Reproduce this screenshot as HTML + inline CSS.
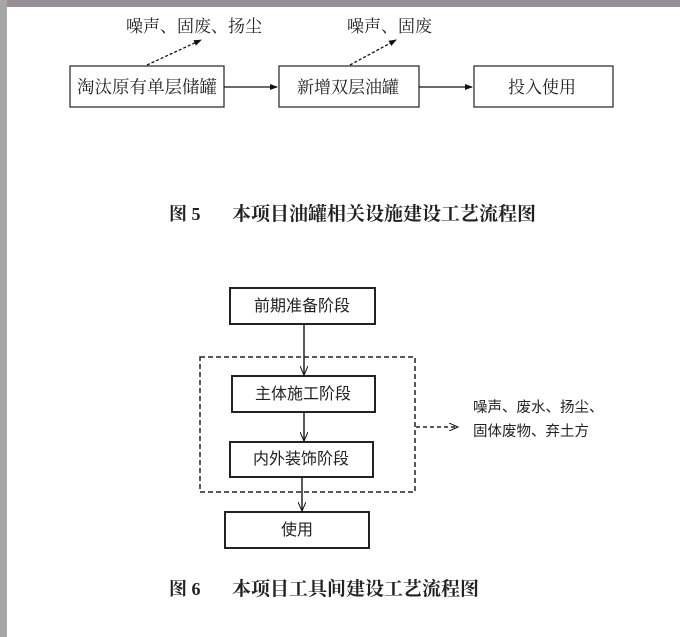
<!DOCTYPE html>
<html><head><meta charset="utf-8"><style>
body{margin:0;width:680px;height:637px;background:#fff;overflow:hidden;position:relative;font-family:"Liberation Serif","Noto Serif CJK SC","Noto Sans CJK SC",serif}
.t{position:absolute;white-space:nowrap;color:#222;line-height:1}
.s{font-family:'Liberation Sans','Noto Sans CJK SC',sans-serif}
</style></head><body>
<div style="position:absolute;left:0;top:0;width:680px;height:7px;background:#9a8e96"></div>
<div style="position:absolute;left:0;top:0;width:7px;height:637px;background:#a6a6a6"></div>
<svg width="680" height="637" style="position:absolute;left:0;top:0">
<defs>
<marker id="a" markerWidth="8" markerHeight="8" refX="7" refY="4" orient="auto" markerUnits="userSpaceOnUse"><path d="M0,1 L8,4 L0,7 z" fill="#111"/></marker>
<marker id="o" markerWidth="10" markerHeight="8" refX="9" refY="4" orient="auto" markerUnits="userSpaceOnUse"><path d="M0,0 L9,4 L0,8" fill="none" stroke="#111" stroke-width="1"/></marker>
</defs>
<g fill="none" stroke="#333" stroke-width="1.3">
<rect x="70" y="66" width="154" height="41"/>
<rect x="279" y="66" width="140" height="41"/>
<rect x="474" y="66" width="139" height="41"/>
</g>
<g stroke="#111" stroke-width="1.3">
<line x1="224" y1="87" x2="277" y2="87" marker-end="url(#a)"/>
<line x1="419" y1="87" x2="472" y2="87" marker-end="url(#a)"/>
<line x1="147" y1="65" x2="201" y2="40" stroke-dasharray="3,2" marker-end="url(#a)"/>
<line x1="350" y1="65" x2="396" y2="40" stroke-dasharray="3,2" marker-end="url(#a)"/>
</g>
<g fill="none" stroke="#222" stroke-width="2">
<rect x="230" y="288" width="145" height="36"/>
<rect x="232" y="376" width="143" height="36"/>
<rect x="230" y="442" width="143" height="35"/>
<rect x="225" y="512" width="144" height="36"/>
</g>
<rect x="200" y="357" width="215" height="135" fill="none" stroke="#222" stroke-width="1.5" stroke-dasharray="5,3"/>
<g stroke="#222" stroke-width="1.5">
<line x1="304" y1="324" x2="304" y2="375" marker-end="url(#o)"/>
<line x1="304" y1="412" x2="304" y2="441" marker-end="url(#o)"/>
<line x1="302" y1="477" x2="302" y2="511" marker-end="url(#o)"/>
<line x1="416" y1="427" x2="458" y2="427" stroke-dasharray="4,3" marker-end="url(#o)"/>
</g>
</svg>
<div class="t" style="left:126px;top:18px;font-size:17px">噪声、固废、扬尘</div>
<div class="t" style="left:347px;top:18px;font-size:17px">噪声、固废</div>
<div class="t" style="left:77px;top:79px;font-size:17.5px">淘汰原有单层储罐</div>
<div class="t" style="left:297px;top:79px;font-size:17px">新增双层油罐</div>
<div class="t" style="left:508px;top:79px;font-size:17px">投入使用</div>
<div class="t" style="left:169px;top:205px;font-size:18px;font-weight:bold">图 5</div>
<div class="t" style="left:232px;top:205px;font-size:19px;font-weight:bold">本项目油罐相关设施建设工艺流程图</div>
<div class="t s" style="left:254px;top:299px;font-size:16px">前期准备阶段</div>
<div class="t s" style="left:255px;top:387px;font-size:16px">主体施工阶段</div>
<div class="t s" style="left:253px;top:452px;font-size:16px">内外装饰阶段</div>
<div class="t s" style="left:281px;top:523px;font-size:16px">使用</div>
<div class="t s" style="left:473px;top:401px;font-size:14.5px">噪声、废水、扬尘、</div>
<div class="t s" style="left:473px;top:425px;font-size:14.5px">固体废物、弃土方</div>
<div class="t" style="left:169px;top:580px;font-size:18px;font-weight:bold">图 6</div>
<div class="t" style="left:232px;top:580px;font-size:19px;font-weight:bold">本项目工具间建设工艺流程图</div>
</body></html>
